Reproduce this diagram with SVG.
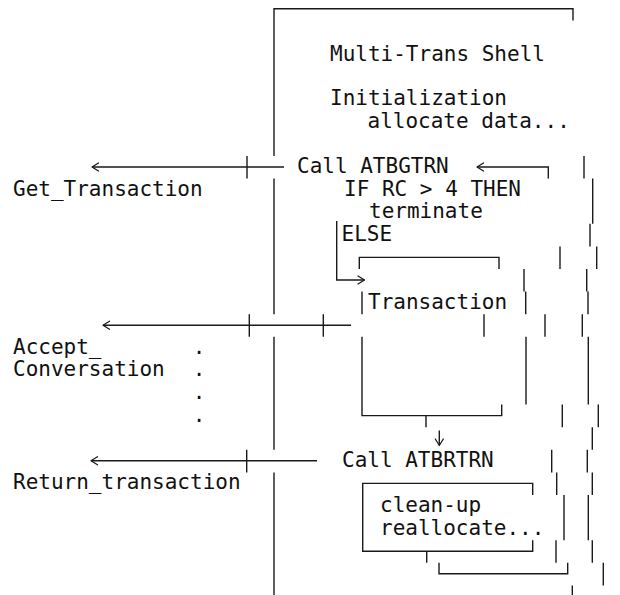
<svg xmlns="http://www.w3.org/2000/svg" width="620" height="595" viewBox="0 0 620 595">
<style>
  .t { font-family: "DejaVu Sans Mono", "Liberation Mono", monospace; font-size: 21px; fill: #111; }
  .ln { stroke: #1a1a1a; stroke-width: 1.4; fill: none; }
  .ah { stroke: #1a1a1a; stroke-width: 1.3; fill: none; stroke-linecap: round; stroke-linejoin: round; }
</style>
<rect width="620" height="595" fill="#fff"/>

<g id="shell">
  <path class="ln" d="M274 595 V472.4 M274 449.8 V336.8 M274 314.2 V178.6 M274 156 V8.8 H573 V20.4"/>
  <text class="t" x="330" y="61">Multi-Trans Shell</text>
  <text class="t" x="330" y="105.4">Initialization</text>
  <text class="t" x="367.5" y="128">allocate data...</text>
  <text class="t" x="297" y="173">Call ATBGTRN</text>
  <text class="t" x="344" y="195.6">IF RC &gt; 4 THEN</text>
  <text class="t" x="369" y="218.2">terminate</text>
  <text class="t" x="341.5" y="240.8">ELSE</text>
  <text class="t" x="342" y="466.8">Call ATBRTRN</text>
</g>

<g id="get_transaction">
  <text class="t" x="13" y="195.6">Get_Transaction</text>
</g>

<g id="accept_conversation">
  <text class="t" x="13" y="353.8">Accept_</text>
  <text class="t" x="13" y="376.4">Conversation</text>
  <text class="t" x="192.7" y="353.8">.</text>
  <text class="t" x="192.7" y="376.4">.</text>
  <text class="t" x="192.7" y="399">.</text>
  <text class="t" x="192.7" y="421.6">.</text>
</g>

<g id="return_transaction">
  <text class="t" x="13" y="489.4">Return_transaction</text>
</g>

<g id="transaction_box">
  <path class="ln" d="M359.3 269 V257.4 H499 V269"/>
  <path class="ln" d="M362 291.6 V314.2"/>
  <path class="ln" d="M362 336.8 V415.6 H501.7 V404.6 M426 415.6 V427.2"/>
  <text class="t" x="368" y="308.6">Transaction</text>
</g>

<g id="cleanup_box">
  <path class="ln" d="M532.7 495 V483.4 H362.7 V551.2 H532.7 V540.2 M426.7 551.2 V562.8"/>
  <path class="ln" d="M439 562.8 V573.8 H567.7 V562.8"/>
  <text class="t" x="380" y="512">clean-up</text>
  <text class="t" x="380" y="534.6">reallocate...</text>
</g>

<g id="connectors">
  <!-- Get_Transaction call -->
  <path class="ln" d="M92 167 H284 M247 156 V178.6"/>
  <path class="ah" d="M98.5 163 L92 167 L98.5 171"/>
  <!-- return into Call ATBGTRN -->
  <path class="ln" d="M477 167 H548.3 V178.6"/>
  <path class="ah" d="M483.5 163 L477 167 L483.5 171"/>
  <!-- ELSE branch -->
  <path class="ln" d="M336.7 221 V280 H364.5"/>
  <path class="ah" d="M358 276 L364.5 280 L358 284"/>
  <!-- Accept_Conversation -->
  <path class="ln" d="M103 325.2 H351 M249.3 314.2 V336.8 M323.3 314.2 V336.8"/>
  <path class="ah" d="M109.5 321.2 L103 325.2 L109.5 329.2"/>
  <!-- down arrow -->
  <path class="ln" d="M439.3 430.5 V445"/>
  <path class="ah" d="M435.3 439 L439.3 445.5 L443.3 439"/>
  <!-- Return_transaction -->
  <path class="ln" d="M91 460.8 H317 M246.7 449.8 V472.4"/>
  <path class="ah" d="M97.5 456.8 L91 460.8 L97.5 464.8"/>
</g>

<g id="margin_rules">
  <path class="ln" d="M584 156 V178.6
    M592.7 178.6 V223.8
    M590 223.8 V246.4
    M560 246.4 V269 M596.7 246.4 V269
    M524 269 V291.6 M586.7 269 V291.6
    M525.7 291.6 V314.2 M588 291.6 V314.2
    M484 314.2 V336.8 M545 314.2 V336.8 M582.3 314.2 V336.8
    M526 336.8 V404.6 M588.3 336.8 V404.6
    M562.3 404.6 V427.2 M598.3 404.6 V427.2
    M592.3 427.2 V449.8
    M551.7 449.8 V472.4 M587.3 449.8 V472.4
    M556.7 472.4 V495 M592.3 472.4 V495
    M564 495 V540.2 M588.3 495 V540.2
    M556 540.2 V562.8 M592.3 540.2 V562.8
    M603.3 562.8 V585.4
    M572.3 585.4 V595"/>
</g>
</svg>
